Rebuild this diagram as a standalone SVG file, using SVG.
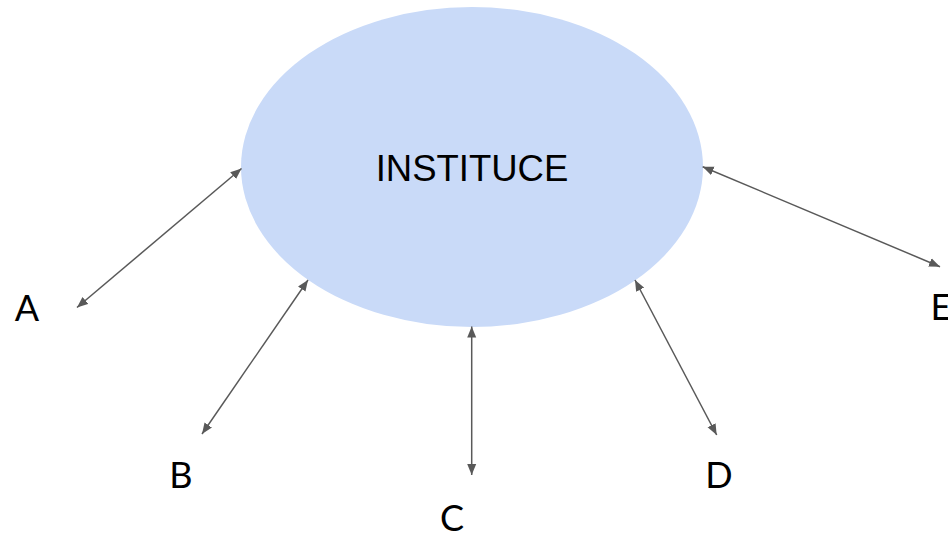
<svg xmlns="http://www.w3.org/2000/svg" width="948" height="533" viewBox="0 0 948 533">
<defs>
<style>
.conn{stroke:#595959;stroke-width:1.5;fill:none;marker-start:url(#ah);marker-end:url(#ah)}
.lbl{font-family:Lato,"Liberation Sans",sans-serif;font-size:36px;fill:#000;text-anchor:middle}
.main{font-family:"Liberation Sans",Arial,sans-serif;font-size:36.5px;fill:#000;text-anchor:middle}
</style>
<marker id="ah" markerUnits="userSpaceOnUse" markerWidth="13" markerHeight="10" refX="11" refY="4.5" orient="auto-start-reverse" viewBox="0 0 13 9">
<path d="M0,0 L11,4.5 L0,9 Z" fill="#595959"/>
</marker>
</defs>
<rect width="948" height="533" fill="#fff"/>
<g id="instituce">
<ellipse cx="472" cy="167" rx="231" ry="160" fill="#c9daf8"/>
<text class="main" x="472" y="181">INSTITUCE</text>
</g>
<g id="connectors">
<line class="conn" x1="241.5" y1="168.5" x2="77" y2="307.5"/>
<line class="conn" x1="308" y1="280" x2="202" y2="434"/>
<line class="conn" x1="471.7" y1="326.5" x2="471.7" y2="475"/>
<line class="conn" x1="635" y1="280" x2="716.7" y2="435"/>
<line class="conn" x1="702.7" y1="166.7" x2="940" y2="266.7"/>
</g>
<g id="A"><text class="lbl" x="27" y="321">A</text></g>
<g id="B"><text class="lbl" x="181" y="488">B</text></g>
<g id="C"><text class="lbl" x="452" y="530.5">C</text></g>
<g id="D"><text class="lbl" x="719" y="488">D</text></g>
<g id="E"><text class="lbl" x="941" y="320">E</text></g>
</svg>
